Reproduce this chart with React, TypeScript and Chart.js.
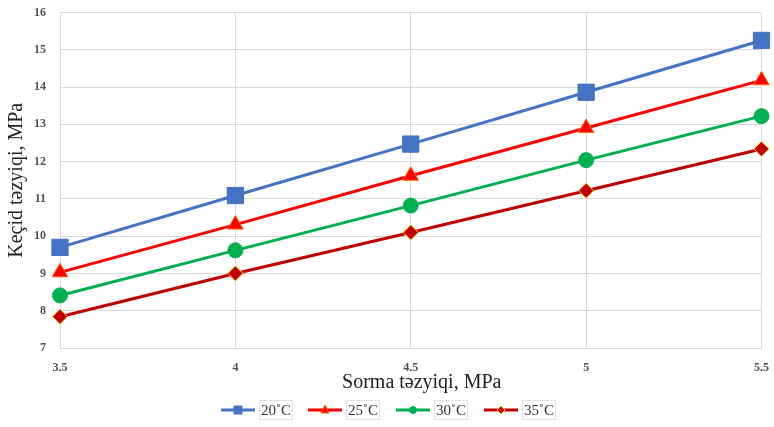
import React, { useEffect, useRef } from "react";
import { Chart, registerables } from "chart.js";

Chart.register(...registerables);

const xValues = [3.5, 4, 4.5, 5, 5.5];
const series20 = [9.7, 11.09, 12.47, 13.86, 15.25];
const series25 = [9.03, 10.31, 11.62, 12.9, 14.18];
const series30 = [8.41, 9.62, 10.82, 12.04, 13.22];
const series35 = [7.84, 9.0, 10.1, 11.22, 12.34];
const seriesLabels = ["20˚C", "25˚C", "30˚C", "35˚C"];
const xTitle = "Sorma təzyiqi, MPa";
const yTitle = "Keçid təzyiqi, MPa";

const FONT = "'Liberation Serif', 'DejaVu Serif', serif";

type Style = { color: string; border: string; shape: string; r: number };
const styles: Style[] = [
  { color: "#4472C4", border: "#4472C4", shape: "rect", r: 11.5 },
  { color: "#FF0000", border: "#FF6A00", shape: "triangle", r: 9 },
  { color: "#00B050", border: "#00B050", shape: "circle", r: 7.5 },
  { color: "#C00000", border: "#FFC000", shape: "rectRot", r: 7.5 },
];

const lineColors = ["#4472C4", "#FF0000", "#00B050", "#C00000"];

const legendPlugin = {
  id: "customLegend",
  afterDraw(chart: any) {
    const ctx = chart.ctx as CanvasRenderingContext2D;
    ctx.save();
    // x-axis title (Excel places it slightly right of the plot centre)
    ctx.font = `20px ${FONT}`;
    ctx.fillStyle = "#222222";
    ctx.textAlign = "center";
    ctx.textBaseline = "alphabetic";
    ctx.fillText(xTitle, chart.chartArea.left + (chart.chartArea.right - chart.chartArea.left) / 2 + 11, 388);

    const y = 410;
    const starts = [221, 308, 396, 484];
    chart.data.datasets.forEach((ds: any, i: number) => {
      const x0 = starts[i];
      ctx.strokeStyle = lineColors[i];
      ctx.lineWidth = 3;
      ctx.beginPath();
      ctx.moveTo(x0, y);
      ctx.lineTo(x0 + 34, y);
      ctx.stroke();
      const st = styles[i];
      ctx.fillStyle = st.color;
      ctx.strokeStyle = st.border;
      ctx.lineWidth = 1;
      const cx = x0 + 17;
      const r = 4;
      ctx.beginPath();
      if (st.shape === "rect") {
        ctx.rect(cx - r, y - r, 2 * r, 2 * r);
      } else if (st.shape === "triangle") {
        ctx.moveTo(cx, y - r - 1);
        ctx.lineTo(cx + r, y + r - 1);
        ctx.lineTo(cx - r, y + r - 1);
        ctx.closePath();
      } else if (st.shape === "circle") {
        ctx.arc(cx, y, r - 0.5, 0, Math.PI * 2);
      } else {
        ctx.moveTo(cx, y - r);
        ctx.lineTo(cx + r, y);
        ctx.lineTo(cx, y + r);
        ctx.lineTo(cx - r, y);
        ctx.closePath();
      }
      ctx.fill();
      ctx.stroke();
      ctx.font = `15px ${FONT}`;
      ctx.fillStyle = "#333333";
      ctx.textBaseline = "middle";
      ctx.textAlign = "left";
      const tx = x0 + 40;
      const w = ctx.measureText(ds.label).width;
      ctx.strokeStyle = "#E0E0E0";
      ctx.strokeRect(tx - 1.5, y - 9.5, w + 3, 19);
      ctx.fillText(ds.label, tx, y + 1);
    });
    ctx.restore();
  },
};

export default function App() {
  const ref = useRef<HTMLCanvasElement | null>(null);
  useEffect(() => {
    document.body.style.margin = "0";
    const all = [series20, series25, series30, series35];
    const chart = new Chart(ref.current as HTMLCanvasElement, {
      type: "line",
      data: {
        datasets: all.map((vals, i) => ({
          label: seriesLabels[i],
          data: vals.map((v, j) => ({ x: xValues[j], y: v })),
          borderColor: lineColors[i],
          backgroundColor: styles[i].color,
          pointBackgroundColor: styles[i].color,
          pointBorderColor: styles[i].border,
          pointBorderWidth: 1,
          pointStyle: styles[i].shape as any,
          pointRadius: styles[i].r,
          pointHoverRadius: styles[i].r,
          borderWidth: 3,
          tension: 0,
          clip: false as any,
        })),
      },
      options: {
        animation: false,
        responsive: false,
        devicePixelRatio: 1,
        layout: { padding: { left: 0, right: 12, top: 11, bottom: 34 } },
        plugins: {
          legend: { display: false },
          tooltip: { enabled: false },
        },
        scales: {
          x: {
            type: "linear",
            min: 3.5,
            max: 5.5,
            ticks: {
              stepSize: 0.5,
              font: { family: FONT, size: 12, weight: "bold" },
              color: "#505050",
              padding: 13,
              callback: (v: any) => String(v),
            },
            grid: { color: "#D9D9D9", drawTicks: false, lineWidth: 1 },
            border: { color: "#D9D9D9" },
            title: { display: false },
            afterFit: (scale: any) => {
              scale.height = 45;
              scale.paddingLeft = 0;
              scale.paddingRight = 0;
            },
          },
          y: {
            min: 7,
            max: 16,
            ticks: {
              stepSize: 1,
              font: { family: FONT, size: 12, weight: "bold" },
              color: "#505050",
              padding: 14,
            },
            grid: { color: "#D9D9D9", drawTicks: false, lineWidth: 1 },
            border: { color: "#D9D9D9" },
            title: {
              display: true,
              text: yTitle,
              font: { family: FONT, size: 20 },
              color: "#222222",
              padding: { top: 5, bottom: 0 },
            },
            afterFit: (scale: any) => {
              scale.width = 60;
              scale.paddingTop = 0;
              scale.paddingBottom = 0;
            },
          },
        },
      },
      plugins: [legendPlugin],
    });
    return () => chart.destroy();
  }, []);
  return (
    <div style={{ width: 774, height: 427 }}>
      <canvas ref={ref} width={774} height={427} style={{ width: 774, height: 427 }} />
    </div>
  );
}
